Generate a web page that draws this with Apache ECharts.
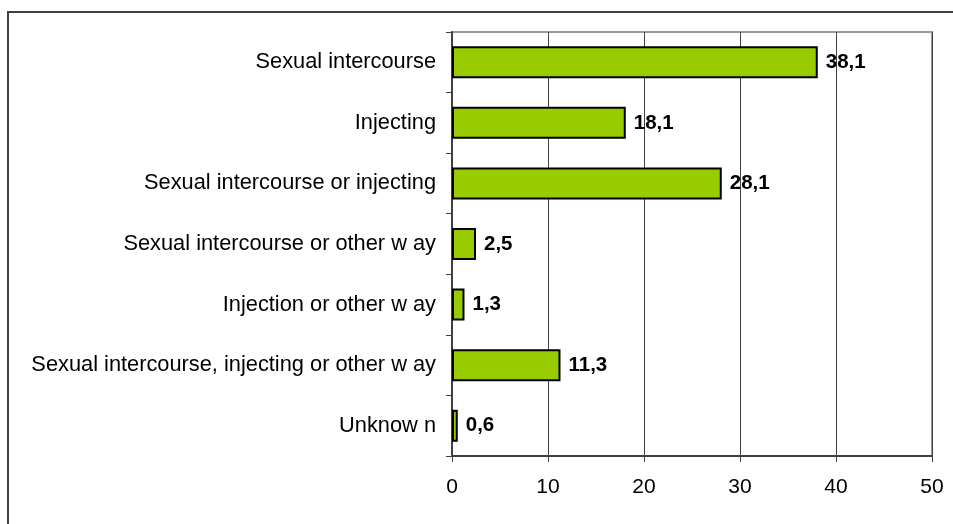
<!DOCTYPE html>
<html>
<head>
<meta charset="utf-8">
<script src="https://cdn.jsdelivr.net/npm/echarts@6/dist/echarts.min.js"></script>
<style>
  html, body { margin: 0; padding: 0; background: #fff; }
  #chart { width: 953px; height: 524px; }
</style>
</head>
<body>
<div id="chart"></div>
<script>
// Transmission routes, percent of cases
const categories = [
  'Sexual intercourse',
  'Injecting',
  'Sexual intercourse or injecting',
  'Sexual intercourse or other w ay',
  'Injection or other w ay',
  'Sexual intercourse, injecting or other w ay',
  'Unknow n'
];
const values = [38.1, 18.1, 28.1, 2.5, 1.3, 11.3, 0.6];
const xTicks = [0, 10, 20, 30, 40, 50];

const chart = echarts.init(document.getElementById('chart'));
const font = 'Liberation Sans, Arial, sans-serif';

chart.setOption({
  animation: false,
  backgroundColor: '#fff',
  graphic: [
    {
      type: 'rect',
      shape: { x: 8, y: 12, width: 1000, height: 600 },
      style: { fill: 'none', stroke: '#404040', lineWidth: 2 },
      silent: true
    }
  ],
  grid: {
    left: 452, right: 21, top: 32, bottom: 68,
    show: true, borderColor: '#999', borderWidth: 2, backgroundColor: 'transparent'
  },
  xAxis: {
    type: 'value',
    min: xTicks[0], max: xTicks[xTicks.length - 1], interval: 10,
    axisLine: { show: true, lineStyle: { color: '#404040', width: 2 } },
    axisTick: { show: true, length: 6, lineStyle: { color: '#404040', width: 1 } },
    splitLine: { show: true, lineStyle: { color: '#404040', width: 1 } },
    axisLabel: { color: '#000', fontFamily: font, fontSize: 21, margin: 21 }
  },
  yAxis: {
    type: 'category',
    inverse: true,
    data: categories,
    axisLine: { show: true, lineStyle: { color: '#404040', width: 2 } },
    axisTick: { show: true, length: 6, alignWithLabel: false, lineStyle: { color: '#404040', width: 1 } },
    axisLabel: { color: '#000', fontFamily: font, fontSize: 21.8, margin: 16 }
  },
  series: [{
    type: 'bar',
    data: values,
    barWidth: 32,
    itemStyle: { color: '#99CC00', borderColor: '#000', borderWidth: 2 },
    label: {
      show: true,
      position: 'right',
      distance: 8,
      color: '#000',
      fontFamily: font,
      fontSize: 20.5,
      fontWeight: 'bold',
      formatter: p => String(p.value).replace('.', ',')
    }
  }]
});
</script>
</body>
</html>
